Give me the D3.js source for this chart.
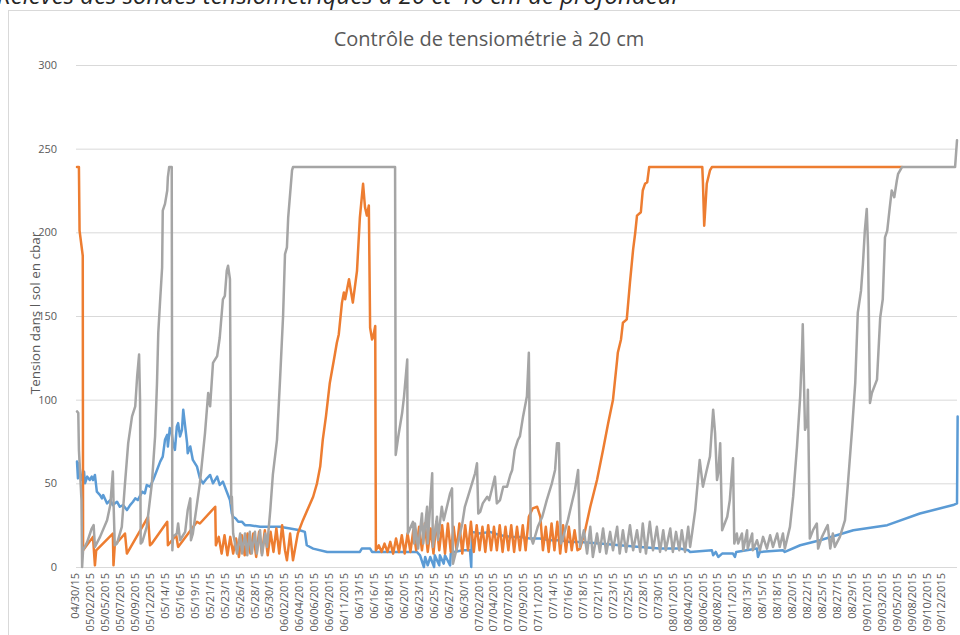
<!DOCTYPE html>
<html><head><meta charset="utf-8">
<script src="https://cdn.jsdelivr.net/npm/d3@7"></script>
<style>body{margin:0;background:#fff;overflow:hidden}svg{display:block}</style>
</head><body><svg id="c" width="960" height="635"></svg>
<script>
const pageTitle = "Relevés des sondes tensiométriques à 20 et 40 cm de profondeur";
const chartTitle = "Contrôle de tensiométrie à 20 cm";
const yTitle = "Tension dans l sol en cbar";
const yTicks = [0, 50, 100, 150, 200, 250, 300];
const xLabels = ["04/30/15","05/02/2015","05/05/2015","05/07/2015","05/09/2015","05/12/2015","05/14/15","05/16/15","05/19/15","05/21/15","05/23/15","05/26/15","05/28/15","05/30/15","06/02/2015","06/04/2015","06/06/2015","06/09/2015","06/11/2015","06/13/15","06/16/15","06/18/15","06/20/15","06/23/15","06/25/15","06/27/15","06/30/15","07/02/2015","07/04/2015","07/07/2015","07/09/2015","07/11/2015","07/14/15","07/16/15","07/18/15","07/21/15","07/23/15","07/25/15","07/28/15","07/30/15","08/01/2015","08/04/2015","08/06/2015","08/08/2015","08/11/2015","08/13/15","08/15/15","08/18/15","08/20/15","08/22/15","08/25/15","08/27/15","08/29/15","09/01/2015","09/03/2015","09/05/2015","09/08/2015","09/10/2015","09/12/2015"];
const labelStepDays = 7 / 3;
const lastDay = 137.5;

// [days since 04/30/15, cbar]
const serieBleue = [[0,63],[0.15,53],[0.3,62],[0.7,52],[1.1,57],[1.25,50],[1.6,54],[2.0,52],[2.3,54],[2.5,52],[2.8,55],[3.1,45],[3.6,43],[3.9,41],[4.1,43],[4.7,38],[5.2,40],[5.6,37],[6.25,39],[6.7,36],[7.2,37],[7.8,34],[8.3,37],[8.75,39],[9.1,41],[9.5,40],[10.2,45],[10.6,44],[10.9,49],[11.4,48],[11.9,52],[12.5,58],[13.0,63],[13.4,66],[13.75,76],[14.1,79],[14.2,72],[14.5,83],[14.8,80],[15.0,74],[15.3,70],[15.6,84],[15.8,86],[16.1,78],[16.4,82],[16.6,94],[16.9,84],[17.2,74],[17.3,68],[17.7,72],[18.1,64],[18.75,60],[19.2,53],[19.7,50],[20.3,53],[20.8,55],[21.25,50],[21.9,54],[22.3,49],[22.8,51],[23.4,45],[23.9,40],[24.2,32],[24.4,30],[24.8,29],[25.2,27],[25.8,27],[26.25,25],[27.0,25],[28.6,24],[30.2,24],[31.7,24],[33.3,23],[34.8,22],[35.6,21],[35.9,13],[36.9,11],[39.1,9],[44.2,9],[44.5,11],[45.8,11],[46.1,9],[53.1,9],[53.6,7],[54.2,0],[54.4,6],[54.8,1],[55.2,6],[55.8,0],[55.9,7],[56.6,1],[56.7,7],[57.3,2],[57.5,7],[58.3,1],[58.4,8],[58.9,9],[60.3,10],[61.4,10],[61.6,0],[61.7,21],[63.0,20],[64.5,21],[66.1,19],[67.7,18],[69.2,18],[70.8,17],[72.3,17],[73.9,16],[75.5,16],[77.0,15],[78.6,15],[81.7,14],[84.8,13],[88.0,12],[91.1,11],[94.2,11],[95.5,10],[95.8,9],[99.2,10],[99.4,7],[99.8,9],[100.2,6],[100.8,8],[102.5,8],[102.8,6],[103.0,9],[106.25,11],[106.4,6],[106.7,9],[110.3,10],[110.6,9],[113.0,13],[116.1,16],[121.3,22],[126.6,25],[131.7,32],[136.9,37],[137.5,38],[137.6,90]];

const serieOrange = [[0,239],[0.3,239],[0.4,201],[0.9,186],[0.95,10],[2.5,18],[2.8,1],[3.0,10],[5.6,20],[5.7,1],[5.9,13],[7.5,20],[7.8,8],[11.1,30],[11.4,13],[11.7,14],[14.1,27],[14.2,13],[15.5,19],[15.8,12],[18.75,27],[19.2,26],[21.6,36],[21.7,13],[22.15,18],[22.6,8],[23.05,19],[23.5,7],[23.95,18],[24.4,8],[24.85,17],[25.3,6],[25.75,19],[26.2,7],[26.65,20],[27.1,8],[27.55,20],[28.0,6],[28.45,21],[28.9,8],[29.35,22],[29.8,7],[30.25,21],[30.7,9],[31.15,23],[31.6,8],[32.05,25],[32.5,10],[32.8,4],[33.3,20],[33.75,4],[34.5,20],[35.3,28],[36.1,35],[36.9,42],[37.5,50],[38.0,60],[38.4,76],[38.9,90],[39.5,110],[40.2,125],[40.6,134],[40.9,139],[41.4,158],[41.7,164],[41.9,160],[42.5,172],[43.1,158],[43.75,177],[44.2,209],[44.7,229],[45.0,215],[45.3,210],[45.6,216],[45.8,143],[46.1,136],[46.25,137],[46.6,144],[46.7,10],[47.15,13],[47.6,9],[48.05,14],[48.5,9],[48.95,15],[49.4,8],[49.85,17],[50.3,9],[50.75,19],[51.2,8],[51.65,20],[52.1,9],[52.55,22],[53.0,10],[53.45,24],[53.9,10],[54.35,26],[54.8,9],[55.25,23],[55.7,8],[56.15,27],[56.6,10],[57.05,25],[57.5,8],[57.95,26],[58.4,9],[58.85,24],[59.3,10],[59.75,26],[60.2,8],[60.65,25],[61.1,10],[61.55,27],[62.0,9],[62.45,25],[62.9,10],[63.35,24],[63.8,9],[64.25,25],[64.7,10],[65.15,24],[65.6,10],[66.05,25],[66.5,9],[66.95,24],[67.4,10],[67.85,25],[68.3,9],[68.75,24],[69.2,10],[69.65,25],[70.1,10],[70.6,30],[71.2,35],[71.9,36],[72.4,30],[72.8,10],[73.25,24],[73.7,9],[74.15,26],[74.6,10],[75.05,27],[75.5,8],[75.95,25],[76.4,9],[76.85,24],[77.3,10],[77.75,22],[78.2,10],[78.6,11],[79.4,22],[80.2,36],[81.25,52],[82.2,70],[83.0,86],[83.75,100],[84.4,124],[84.5,128],[85.0,136],[85.3,146],[85.9,148],[86.4,170],[86.9,190],[87.2,199],[87.5,210],[88.1,212],[88.4,225],[88.75,229],[89.1,230],[89.4,239],[97.7,239],[97.8,230],[98.0,204],[98.1,210],[98.4,229],[98.9,237],[99.2,239],[128.9,239]];

const serieGrise = [[0,93],[0.2,92],[0.3,70],[0.7,40],[0.8,0],[0.95,10],[1.6,15],[2.3,23],[2.6,25],[2.8,12],[3.6,18],[4.7,28],[5.2,37],[5.6,57],[5.7,40],[5.9,13],[6.25,14],[7.0,24],[7.5,50],[8.0,74],[8.6,90],[9.1,96],[9.4,114],[9.7,127],[9.85,100],[9.95,14],[10.2,15],[10.9,24],[11.7,50],[12.2,78],[12.5,110],[12.7,140],[13.0,160],[13.3,179],[13.4,213],[13.75,217],[14.1,225],[14.2,233],[14.4,239],[14.8,239],[14.9,10],[15.0,18],[15.6,20],[15.8,26],[16.1,16],[16.9,21],[17.3,34],[17.7,41],[17.8,16],[18.1,20],[19.2,50],[20.0,80],[20.5,104],[20.8,96],[21.25,122],[21.9,126],[22.3,137],[22.8,160],[23.1,162],[23.4,177],[23.6,180],[23.9,172],[24.1,38],[24.2,42],[24.4,20],[25.0,8],[25.5,20],[25.8,8],[26.25,20],[26.6,7],[27.0,21],[27.3,8],[27.8,21],[28.1,8],[28.6,22],[28.9,7],[29.4,20],[29.7,12],[30.2,34],[30.6,55],[31.25,76],[31.7,110],[32.2,150],[32.5,187],[32.8,191],[33.0,209],[33.3,223],[33.6,237],[33.75,239],[49.7,239],[49.8,67],[50.2,78],[50.8,92],[51.1,102],[51.6,124],[51.7,20],[52.5,27],[52.7,14],[52.8,26],[53.3,11],[53.9,32],[54.1,14],[54.7,36],[54.8,14],[55.5,56],[55.6,12],[56.25,30],[56.4,16],[57.0,36],[57.3,28],[58.3,44],[58.6,47],[58.75,2],[59.4,12],[60.2,26],[60.6,36],[61.4,46],[62.2,56],[62.5,62],[62.7,32],[63.0,33],[63.4,38],[64.1,42],[64.4,40],[64.8,46],[65.3,54],[65.6,38],[66.1,40],[66.6,48],[67.2,48],[67.7,55],[68.0,58],[68.4,70],[68.9,76],[69.2,78],[69.7,90],[70.3,102],[70.6,128],[70.9,18],[71.25,14],[72.0,24],[72.7,30],[73.4,40],[74.2,50],[74.7,58],[75.0,74],[75.3,74],[75.6,14],[75.9,17],[76.7,28],[77.3,38],[77.8,46],[78.3,58],[78.6,12],[79.2,22],[79.7,8],[80.2,24],[80.6,6],[81.25,20],[81.7,9],[82.2,23],[82.7,8],[83.3,21],[83.75,10],[84.4,24],[84.8,8],[85.3,22],[85.8,9],[86.4,25],[86.9,10],[87.5,22],[88.0,9],[88.4,26],[88.9,8],[89.5,27],[90.0,10],[90.6,24],[91.1,9],[91.6,22],[92.0,10],[92.7,23],[93.1,9],[93.6,21],[94.1,10],[94.5,22],[95.0,9],[95.5,24],[95.8,12],[96.1,20],[96.6,34],[97.3,64],[97.8,48],[98.4,58],[98.9,66],[99.4,94],[99.7,80],[100.0,52],[100.2,56],[100.5,74],[100.8,22],[101.6,30],[102.0,40],[102.5,65],[102.7,14],[103.1,20],[103.3,14],[103.9,20],[104.1,10],[104.7,22],[104.8,11],[105.5,20],[105.6,10],[106.25,16],[106.7,10],[107.2,18],[107.8,11],[108.3,19],[108.75,12],[109.4,20],[109.8,12],[110.3,20],[110.6,11],[111.4,24],[111.9,42],[112.5,72],[113.0,102],[113.3,131],[113.4,145],[113.75,82],[114.1,86],[114.2,106],[114.5,17],[115.0,22],[115.6,26],[115.8,11],[116.4,18],[116.9,22],[117.3,25],[117.7,11],[118.1,20],[118.4,12],[119.2,18],[120.0,28],[120.5,52],[121.1,82],[121.6,110],[122.0,152],[122.5,165],[122.8,181],[123.1,201],[123.4,214],[123.6,191],[123.9,98],[124.2,104],[125.0,112],[125.5,149],[125.9,160],[126.25,197],[126.6,201],[127.0,215],[127.3,225],[127.7,221],[128.1,231],[128.3,235],[128.9,239],[137.2,239],[137.5,255]];

const series = [
  {name: "bleue", color: "#5B9BD5", data: serieBleue},
  {name: "orange", color: "#ED7D31", data: serieOrange},
  {name: "grise", color: "#A5A5A5", data: serieGrise}
];

const svg = d3.select("#c");
const font = "'Open Sans', 'Liberation Sans', sans-serif";
const x = d3.scaleLinear().domain([0, lastDay]).range([77, 957]);
const y = d3.scaleLinear().domain([0, 300]).range([567, 65]);

// outer text (cut off at top, as in the source)
svg.append("text").attr("x", -3).attr("y", 4)
  .attr("font-family", font).attr("font-style", "italic").attr("font-size", 24)
  .attr("fill", "#262626").text(pageTitle);

// chart frame
svg.append("rect").attr("x", 8.5).attr("y", 10.5).attr("width", 1000).attr("height", 700)
  .attr("fill", "#fff").attr("stroke", "#d9d9d9");

// title
svg.append("text").attr("x", 489).attr("y", 46).attr("text-anchor", "middle")
  .attr("font-family", font).attr("font-size", 20).attr("fill", "#595959").text(chartTitle);

// grid
const yAxis = d3.axisLeft(y).tickValues(yTicks).tickSize(-(957 - 76)).tickPadding(19);
const gy = svg.append("g").attr("transform", "translate(76,0)").call(yAxis);
gy.select(".domain").remove();
gy.selectAll(".tick line").attr("stroke", "#d9d9d9").attr("stroke-width", 1);
gy.selectAll(".tick text").attr("font-family", font).attr("font-size", 11).attr("fill", "#595959");

// x axis labels
const tickDays = xLabels.map((d, i) => i * labelStepDays);
const xAxis = d3.axisBottom(x).tickValues(tickDays).tickSize(0).tickFormat((d, i) => xLabels[i]);
const gx = svg.append("g").attr("transform", "translate(0,567)").call(xAxis);
gx.select(".domain").attr("stroke", "#d9d9d9").attr("d", "M76,0.5H957");
gx.selectAll(".tick text")
  .attr("font-family", font).attr("font-size", 11).attr("fill", "#595959")
  .attr("text-anchor", "end").attr("y", 0).attr("dy", "0.35em")
  .attr("transform", "translate(-2,6) rotate(-90)");

// y title
svg.append("text").attr("transform", "translate(35,313) rotate(-90)")
  .attr("text-anchor", "middle").attr("dy", "0.35em")
  .attr("font-family", font).attr("font-size", 13.5).attr("fill", "#595959").text(yTitle);

// lines
const line = d3.line().x(d => x(d[0])).y(d => y(Math.max(0, d[1])));
svg.append("g").selectAll("path").data(series).join("path")
  .attr("d", s => line(s.data)).attr("fill", "none")
  .attr("stroke", s => s.color).attr("stroke-width", 2.5)
  .attr("stroke-linejoin", "round").attr("stroke-linecap", "round");
</script></body></html>
